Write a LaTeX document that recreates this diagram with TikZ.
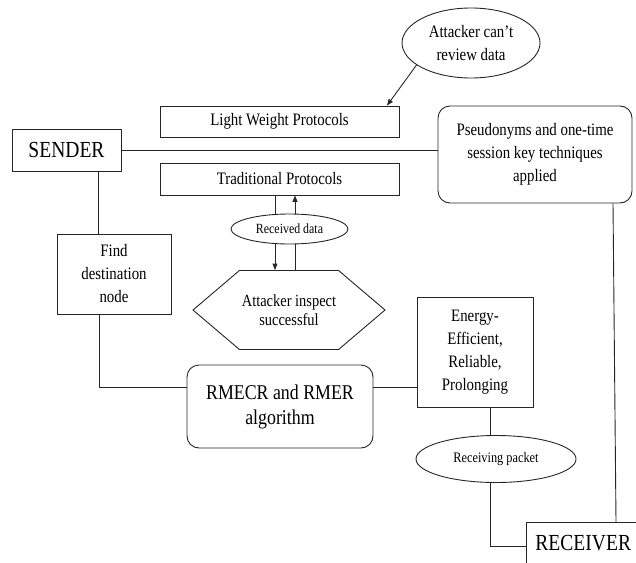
\documentclass[tikz,border=0pt]{standalone}
\usepackage{fontspec}
\setmainfont[FakeStretch=0.85]{Liberation Serif}
\usetikzlibrary{shapes.geometric,shapes.symbols,arrows.meta}
\begin{document}
\begin{tikzpicture}[x=1pt,y=-1pt,
  line/.style={draw=black!85, line width=0.9pt},
  arr/.style={line, -{Triangle[length=6.5pt,width=5pt]}},
  box/.style={draw=black!85, line width=0.9pt, rectangle, inner sep=0pt, align=center, fill=white},
  rbox/.style={box, rounded corners=12pt},
  oval/.style={draw=black!85, line width=0.9pt, ellipse, inner sep=0pt, align=center, fill=white},
  fmain/.style={font=\fontsize{17.5}{23}\selectfont}]
\useasboundingbox (0,0) rectangle (636,562);

\node[box, minimum width=109, minimum height=42, font=\fontsize{23}{28}\selectfont] (snd) at (66.5,150) {SENDER};
\node[box, fmain, minimum width=239, minimum height=31] (lw) at (279.5,121.5) {Light Weight Protocols};
\node[box, fmain, minimum width=239, minimum height=32] (tp) at (279.5,179) {Traditional Protocols};
\node[rbox, fmain, minimum width=194, minimum height=97] (ps) at (535,154.5) {Pseudonyms and one-time\\session key techniques\\applied};
\node[oval, fmain, minimum width=138, minimum height=70] (att) at (471,43) {Attacker can’t\\review data};
\node[box, fmain, minimum width=114, minimum height=80] (fd) at (114,274) {Find\\destination\\node};
\node[draw=black!85, line width=0.9pt, signal, signal to=west and east, signal pointer angle=80.8,
  minimum width=192, minimum height=79, inner sep=0pt, align=center, fill=white,
  font=\fontsize{17}{19}\selectfont] (hex) at (289,310) {Attacker inspect\\successful};
\node[rbox, font=\fontsize{21}{25}\selectfont, minimum width=186, minimum height=83] (rm) at (280,406.5) {RMECR and RMER\\algorithm};
\node[box, fmain, minimum width=116, minimum height=110] (en) at (475,352) {Energy-\\Efficient,\\Reliable,\\Prolonging};
\node[oval, font=\fontsize{14.5}{17}\selectfont, minimum width=160, minimum height=47] (rp) at (496,459) {Receiving packet};
\node[box, anchor=north west, inner xsep=9pt, inner ysep=13pt, text height=15pt, text depth=6pt,
  font=\fontsize{23}{28}\selectfont] (rcv) at (526,522) {RECEIVER};

% connectors
\draw[line] (snd.east) -- (ps.west |- snd.east);
\draw[line] (snd.south -| 98,0) -- (fd.north -| 98,0);
\draw[line] (fd.south -| 99,0) |- (rm.west |- 0,387);
\draw[line] (rm.east |- 0,387) -- (en.west |- 0,387);
\draw[line] (en.south -| 490,0) -- (rp.north -| 490,0);
\draw[line] (rp.south -| 490,0) |- (rcv.west);
\draw[line] (ps.south -| 613,0) -- (rcv.north -| 616,0);
\draw[arr] (att.202) -- (lw.north -| 387,0);
\draw[arr] (tp.south -| 275,0) -- (hex.north -| 275,0);
\draw[arr] (hex.north -| 295,0) -- (tp.south -| 295,0);
\node[oval, font=\fontsize{14}{17}\selectfont, minimum width=117, minimum height=30] (rd) at (289.5,229) {Received data};
\end{tikzpicture}
\end{document}
